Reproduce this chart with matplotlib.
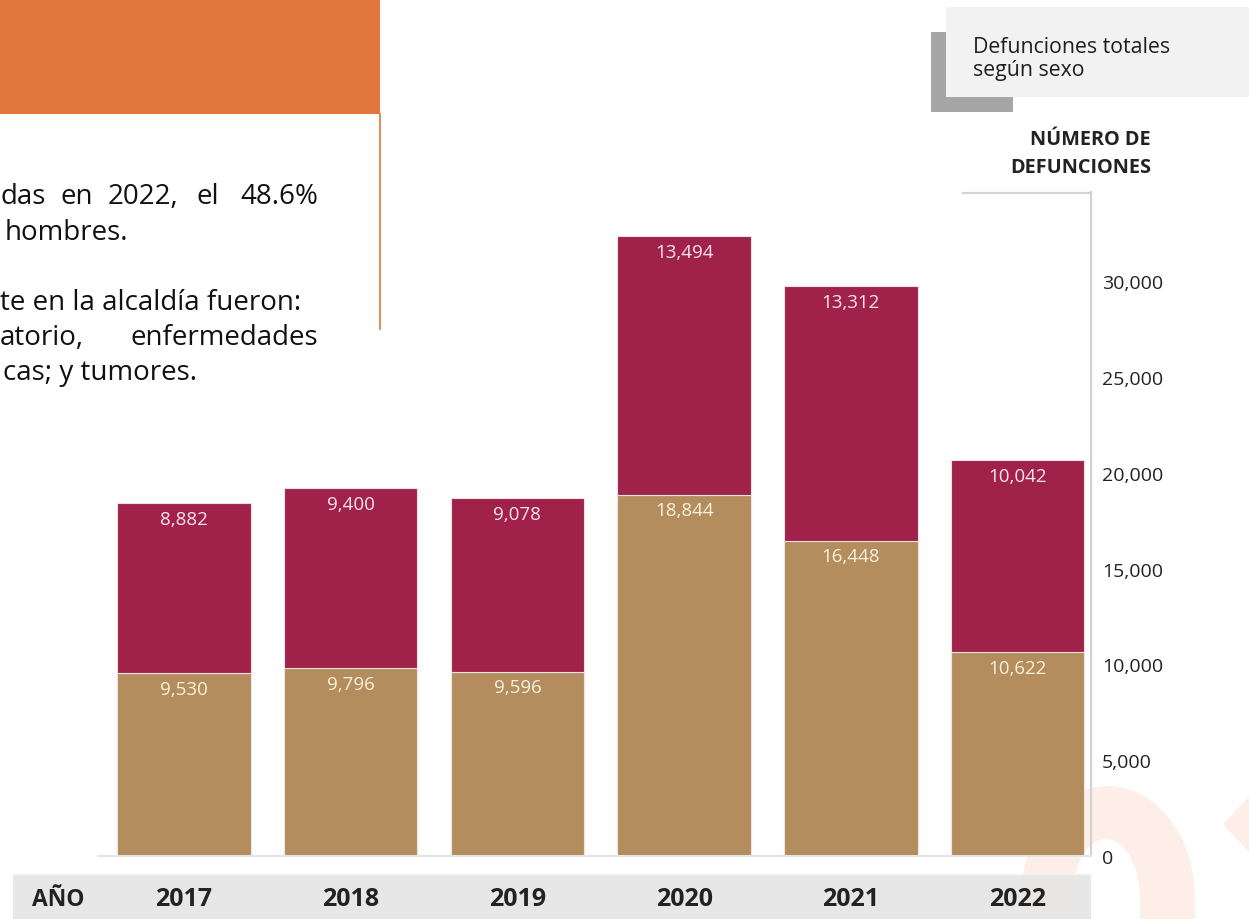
import matplotlib
matplotlib.use('Agg')
import matplotlib.pyplot as plt
from matplotlib.patches import Rectangle, Polygon
from matplotlib.lines import Line2D
import matplotlib.transforms as mtransforms
import numpy as np

# ---------------- data ----------------
years = ['2017', '2018', '2019', '2020', '2021', '2022']
hombres = [9530, 9796, 9596, 18844, 16448, 10622]
mujeres = [8882, 9400, 9078, 13494, 13312, 10042]
yticks = [0, 5000, 10000, 15000, 20000, 25000, 30000]

title_box = 'Defunciones totales\nsegún sexo'
axis_title = 'NÚMERO DE\nDEFUNCIONES'
x_title = 'AÑO'

# ---------------- figure ----------------
W, H = 1249, 920
plt.rcParams['font.family'] = ['Open Sans', 'DejaVu Sans']
fig = plt.figure(figsize=(W / 100, H / 100), dpi=100)
fig.patch.set_facecolor('white')

def fx(px):
    return px / W

def fy(py):
    return 1 - py / H

TAN = '#B38D5D'
WINE = '#A0224A'
ORANGE = '#E1773B'
DARK = '#1e1e1e'

# watermark (faint orange arch)
cx_o, cx_i, cy = 1108, 1106, 900
t = np.linspace(np.pi, 0, 60)
outer = [(cx_o + 87 * np.cos(a), cy - 113 * np.sin(a)) for a in t]
inner = [(cx_i + 34 * np.cos(a), cy - 60 * np.sin(a)) for a in t[::-1]]
pts = [(1021, 940)] + outer + [(1195, 940), (1140, 940)] + inner + [(1072, 940)]
fig.add_artist(Polygon([(fx(x), fy(y)) for x, y in pts], closed=True,
                       transform=fig.transFigure, facecolor='#fdefe8',
                       edgecolor='none', zorder=-2))
tri = [(1223, 825), (1249, 798), (1249, 853)]
fig.add_artist(Polygon([(fx(x), fy(y)) for x, y in tri], closed=True,
                       transform=fig.transFigure, facecolor='#fdefe8',
                       edgecolor='none', zorder=-2))

# bottom band
fig.add_artist(Rectangle((fx(13), fy(925)), fx(1091) - fx(13), (925 - 875) / H,
                         transform=fig.transFigure, facecolor='#e5e5e5',
                         alpha=0.9, edgecolor='none', zorder=-1))
fig.add_artist(Line2D([fx(13), fx(1091)], [fy(875), fy(875)], transform=fig.transFigure,
                      color='#f2f2f2', lw=1.0, zorder=-1))

# orange header box and vertical rule
fig.add_artist(Rectangle((0, fy(115)), fx(380), 115 / H, transform=fig.transFigure,
                         facecolor=ORANGE, edgecolor='none', zorder=1))
fig.add_artist(Line2D([fx(379.5), fx(379.5)], [fy(115), fy(330)],
                      transform=fig.transFigure, color=ORANGE, lw=1.2, zorder=1))

# left body text (cropped paragraph, justified lines)
fs_body = 20
body_words = [
    (0, 204, 'das', 'left'), (61, 204, 'en', 'left'), (108, 204, '2022,', 'left'),
    (197, 204, 'el', 'left'), (318, 204, '48.6%', 'right'),
    (5, 240, 'hombres.', 'left'),
    (0, 310, 'te en la alcaldía fueron:', 'left'),
    (0, 345, 'atorio,', 'left'), (318, 345, 'enfermedades', 'right'),
    (3, 380, 'cas; y tumores.', 'left'),
]
for x, y, s, ha in body_words:
    fig.text(fx(x), fy(y), s, fontsize=fs_body, color='#111111', ha=ha, va='baseline')

# top-right title box
fig.add_artist(Rectangle((fx(931), fy(113)), fx(946) - fx(931), (113 - 33) / H,
                         transform=fig.transFigure, facecolor='#a6a6a6', edgecolor='none', zorder=1))
fig.add_artist(Rectangle((fx(931), fy(113)), fx(1013) - fx(931), (113 - 97) / H,
                         transform=fig.transFigure, facecolor='#a6a6a6', edgecolor='none', zorder=1))
fig.add_artist(Rectangle((fx(946), fy(98)), fx(1249) - fx(946), (98 - 8) / H,
                         transform=fig.transFigure, facecolor='#f2f2f2', edgecolor='none', zorder=2))
fig.text(fx(973), fy(53), title_box.split('\n')[0], fontsize=15.3, color=DARK, ha='left', va='baseline')
fig.text(fx(973), fy(76), title_box.split('\n')[1], fontsize=15.3, color=DARK, ha='left', va='baseline')

# axis title
fig.text(fx(1151), fy(145), axis_title.split('\n')[0], fontsize=14.3, fontweight='bold',
         color='#222222', ha='right', va='baseline')
fig.text(fx(1151), fy(173), axis_title.split('\n')[1], fontsize=14.3, fontweight='bold',
         color='#222222', ha='right', va='baseline')

# ---------------- axes ----------------
ax = fig.add_axes([fx(98), fy(857), fx(1091) - fx(98), (857 - 193) / H])
ax.patch.set_alpha(0)
x = np.arange(len(years))
ax.bar(x, hombres, 0.8, color=TAN, edgecolor='#efe4e4', linewidth=0.8, zorder=2)
ax.bar(x, mujeres, 0.8, bottom=hombres, color=WINE, edgecolor='#efe0e4', linewidth=0.8, zorder=2)
ax.set_xlim(-0.515, 5.44)
ax.set_ylim(0, 34650)

for i in range(len(years)):
    ax.annotate(f'{hombres[i]:,}', (x[i], hombres[i]), xytext=(0, -11), textcoords='offset points',
                ha='center', va='center', fontsize=13.5, color='#fbf0dc', zorder=3)
    top = hombres[i] + mujeres[i]
    ax.annotate(f'{mujeres[i]:,}', (x[i], top), xytext=(0, -11.5), textcoords='offset points',
                ha='center', va='center', fontsize=13.5, color='#f9e4ec', zorder=3)

for side in ['left', 'top']:
    ax.spines[side].set_visible(False)
ax.spines['bottom'].set_color('#e4e4e4')
ax.spines['bottom'].set_linewidth(1.5)
ax.spines['right'].set_color('#d2d2d2')
ax.spines['right'].set_linewidth(1.6)
ax.set_xticks([])
ax.yaxis.tick_right()
ax.set_yticks(yticks)
ax.set_yticklabels([f'{v:,}' for v in yticks])
ax.tick_params(axis='y', length=0, pad=8, labelsize=14, labelcolor='#222222')

# partial top line of the axis frame
fig.add_artist(Line2D([fx(963), fx(1091)], [fy(193.5), fy(193.5)], transform=fig.transFigure,
                      color='#d2d2d2', lw=1.6, zorder=1))

# year labels in the band
trans = mtransforms.blended_transform_factory(ax.transData, fig.transFigure)
for i, yr in enumerate(years):
    ax.text(x[i], fy(900), yr, transform=trans, ha='center', va='center', fontsize=18,
            fontweight='bold', color='#222222', clip_on=False)
fig.text(fx(32), fy(900), x_title, ha='left', va='center', fontsize=16.5, fontweight='bold',
         color='#222222')

fig.savefig('out.png', dpi=100, facecolor='white')
